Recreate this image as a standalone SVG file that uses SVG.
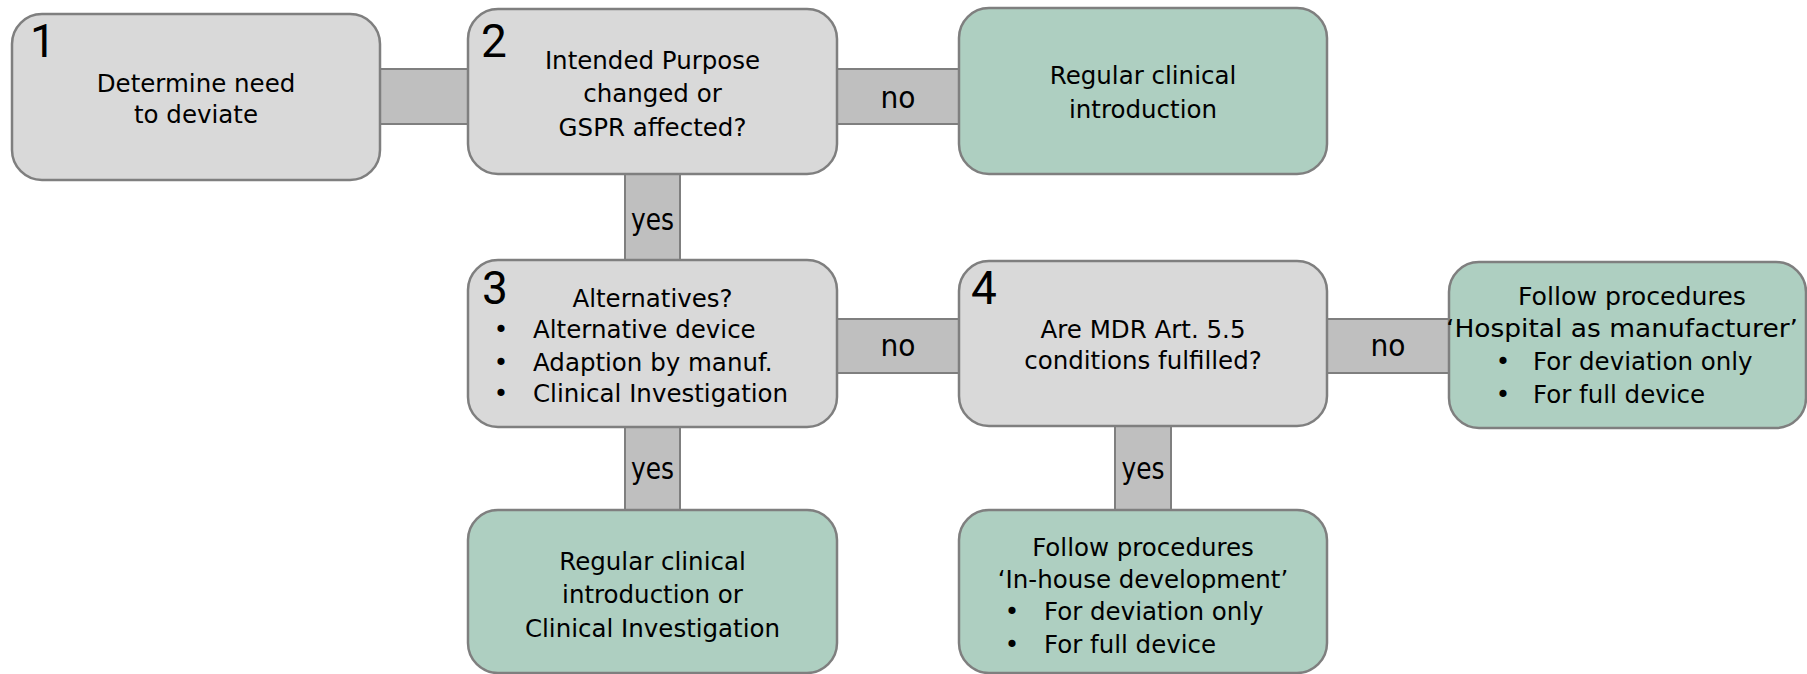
<svg xmlns="http://www.w3.org/2000/svg" width="1807" height="674" viewBox="0 0 1807 674">
<style>
.box{fill:#d9d9d9;stroke:#7f7f7f;stroke-width:2.5}
.gbox{fill:#aecfc1;stroke:#7f7f7f;stroke-width:2.5}
.conn{fill:#bfbfbf;stroke:#7f7f7f;stroke-width:2}
.t{font-family:"DejaVu Sans",sans-serif;font-size:24.5px;fill:#000}
.c{text-anchor:middle}
.num{font-family:Roboto,"DejaVu Sans",sans-serif;font-size:46px;fill:#000}
.lbl{font-family:"DejaVu Sans",sans-serif;font-size:30px;fill:#000;text-anchor:middle}
</style>
<rect width="1807" height="674" fill="#fff"/>
<g id="connectors">
<rect class="conn" x="378" y="69" width="92" height="55"/>
<rect class="conn" x="835" y="69" width="126" height="55"/>
<rect class="conn" x="625" y="172" width="55" height="90"/>
<rect class="conn" x="835" y="319" width="126" height="54"/>
<rect class="conn" x="1325" y="319" width="126" height="54"/>
<rect class="conn" x="625" y="425" width="55" height="87"/>
<rect class="conn" x="1115" y="425" width="56" height="87"/>
<text class="lbl" x="898" y="108" textLength="35" lengthAdjust="spacingAndGlyphs">no</text>
<text class="lbl" x="652.5" y="230" textLength="43" lengthAdjust="spacingAndGlyphs">yes</text>
<text class="lbl" x="898" y="356" textLength="35" lengthAdjust="spacingAndGlyphs">no</text>
<text class="lbl" x="1388" y="356" textLength="35" lengthAdjust="spacingAndGlyphs">no</text>
<text class="lbl" x="652.5" y="479" textLength="43" lengthAdjust="spacingAndGlyphs">yes</text>
<text class="lbl" x="1143" y="479" textLength="43" lengthAdjust="spacingAndGlyphs">yes</text>
</g>
<g id="n1">
<rect class="box" x="12" y="14" width="368" height="166" rx="30"/>
<text class="num" x="30" y="57">1</text>
<text class="t c" x="196" y="92">Determine need</text>
<text class="t c" x="196" y="123">to deviate</text>
</g>
<g id="n2">
<rect class="box" x="468" y="9" width="369" height="165" rx="30"/>
<text class="num" x="481" y="57">2</text>
<text class="t c" x="652.5" y="69">Intended Purpose</text>
<text class="t c" x="652.5" y="102">changed or</text>
<text class="t c" x="652.5" y="136">GSPR affected?</text>
</g>
<g id="n_regular">
<rect class="gbox" x="959" y="8" width="368" height="166" rx="30"/>
<text class="t c" x="1143" y="84">Regular clinical</text>
<text class="t c" x="1143" y="118">introduction</text>
</g>
<g id="n3">
<rect class="box" x="468" y="260" width="369" height="167" rx="30"/>
<text class="num" x="482" y="304">3</text>
<text class="t c" x="652.5" y="307">Alternatives?</text>
<text class="t c" x="501" y="338">•</text>
<text class="t" x="533" y="338">Alternative device</text>
<text class="t c" x="501" y="371">•</text>
<text class="t" x="533" y="371">Adaption by manuf.</text>
<text class="t c" x="501" y="402">•</text>
<text class="t" x="533" y="402">Clinical Investigation</text>
</g>
<g id="n4">
<rect class="box" x="959" y="261" width="368" height="165" rx="30"/>
<text class="num" x="971" y="304">4</text>
<text class="t c" x="1143" y="338">Are MDR Art. 5.5</text>
<text class="t c" x="1143" y="369">conditions fulfilled?</text>
</g>
<g id="n_hospital">
<rect class="gbox" x="1449" y="262" width="357" height="166" rx="30"/>
<text class="t c" x="1632" y="305" textLength="228" lengthAdjust="spacingAndGlyphs">Follow procedures</text>
<text class="t c" x="1622" y="337" textLength="352" lengthAdjust="spacingAndGlyphs">‘Hospital as manufacturer’</text>
<text class="t c" x="1503" y="370">•</text>
<text class="t" x="1533" y="370">For deviation only</text>
<text class="t c" x="1503" y="403">•</text>
<text class="t" x="1533" y="403">For full device</text>
</g>
<g id="n_regular_ci">
<rect class="gbox" x="468" y="510" width="369" height="163" rx="30"/>
<text class="t c" x="652.5" y="570">Regular clinical</text>
<text class="t c" x="652.5" y="603">introduction or</text>
<text class="t c" x="652.5" y="637">Clinical Investigation</text>
</g>
<g id="n_inhouse">
<rect class="gbox" x="959" y="510" width="368" height="163" rx="30"/>
<text class="t c" x="1143" y="556">Follow procedures</text>
<text class="t c" x="1143" y="588">‘In-house development’</text>
<text class="t c" x="1012" y="620">•</text>
<text class="t" x="1044" y="620">For deviation only</text>
<text class="t c" x="1012" y="653">•</text>
<text class="t" x="1044" y="653">For full device</text>
</g>
</svg>
